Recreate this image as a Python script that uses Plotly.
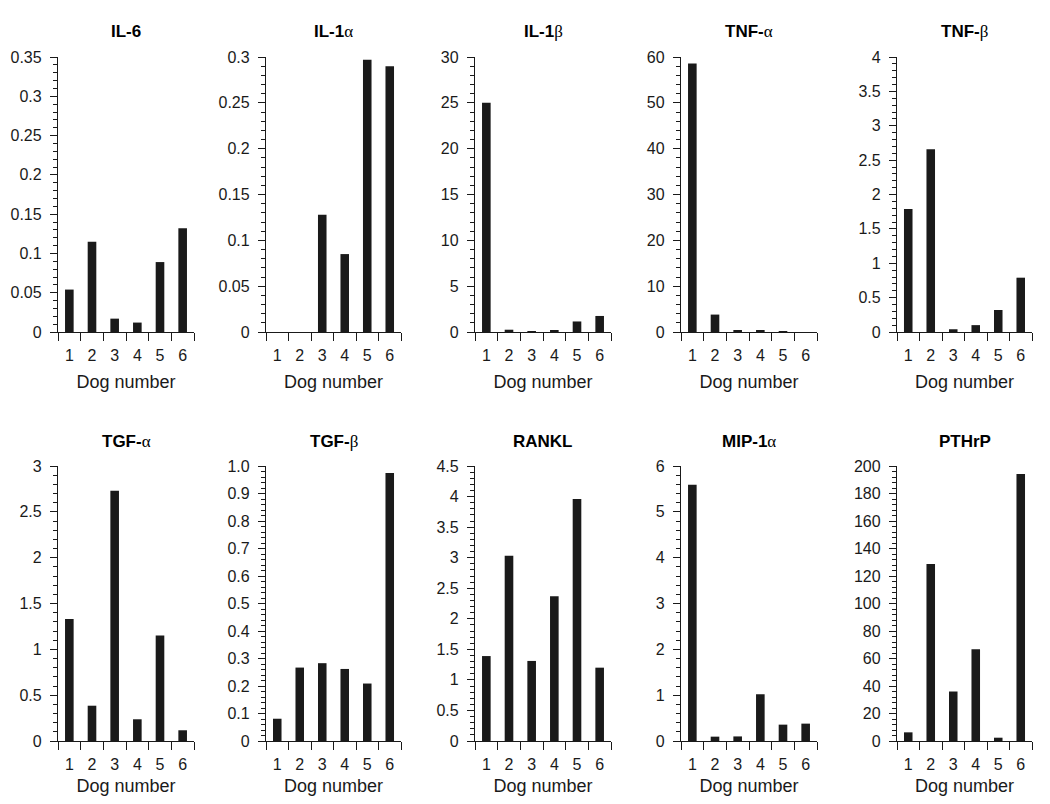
import plotly.graph_objects as go
from plotly.subplots import make_subplots

dogs = [1, 2, 3, 4, 5, 6]

titles = ["IL-6", "IL-1α", "IL-1β", "TNF-α", "TNF-β",
          "TGF-α", "TGF-β", "RANKL", "MIP-1α", "PTHrP"]

il6 = [0.054, 0.115, 0.017, 0.012, 0.089, 0.132]
il1a = [0, 0, 0.128, 0.085, 0.297, 0.290]
il1b = [25.0, 0.25, 0.1, 0.18, 1.15, 1.75]
tnfa = [58.6, 3.8, 0.3, 0.35, 0.05, 0.0]
tnfb = [1.79, 2.66, 0.04, 0.10, 0.32, 0.79]
tgfa = [1.33, 0.385, 2.73, 0.237, 1.15, 0.117]
tgfb = [0.081, 0.267, 0.283, 0.262, 0.209, 0.975]
rankl = [1.39, 3.03, 1.31, 2.37, 3.96, 1.20]
mip1a = [5.59, 0.095, 0.10, 1.02, 0.357, 0.379]
pthrp = [6.3, 128.8, 36.0, 66.8, 2.4, 194.2]

series = [il6, il1a, il1b, tnfa, tnfb, tgfa, tgfb, rankl, mip1a, pthrp]

y_max = [0.35, 0.3, 30, 60, 4, 3, 1.0, 4.5, 6, 200]
y_major = [0.05, 0.05, 5, 10, 0.5, 0.5, 0.1, 0.5, 1, 20]
y_minor = [0.01, 0.01, 1, 2, 0.1, 0.1, 0.02, 0.1, 0.2, 4]

# TGF-beta axis shows one decimal on the top label
tgfb_ticks = [0, 0.1, 0.2, 0.3, 0.4, 0.5, 0.6, 0.7, 0.8, 0.9, 1.0]
tgfb_labels = ["0", "0.1", "0.2", "0.3", "0.4", "0.5", "0.6", "0.7", "0.8", "0.9", "1.0"]

# tick marks sit between the dogs, not under them
dog_edges = [d - 0.5 for d in dogs] + [dogs[-1] + 0.5]

# page has an 8px body margin, so the figure is the window minus 16
PAD = 8
W, H = 1050 - 2 * PAD, 804 - 2 * PAD
col_px = [(58, 194), (266, 401), (475, 611), (681, 817), (897, 1032)]
row_px = [(57, 332), (466, 741)]

FONT = "Liberation Sans, Arial, sans-serif"
INK = "#1a1a1a"

fig = make_subplots(rows=2, cols=5)

for i, vals in enumerate(series):
    r, c = divmod(i, 5)
    fig.add_trace(
        go.Bar(x=dogs, y=vals, width=0.38, marker=dict(color=INK, line=dict(width=0)),
               showlegend=False),
        row=r + 1, col=c + 1,
    )
    x0, x1 = [v - PAD for v in col_px[c]]
    top, bot = [v - PAD for v in row_px[r]]
    fig.update_xaxes(
        domain=[x0 / W, x1 / W], range=[dog_edges[0], dog_edges[-1]],
        tickmode="linear", tick0=1, dtick=1,
        ticks="outside", ticklen=9, tickcolor="rgba(0,0,0,0)",
        minor=dict(tickmode="array", tickvals=dog_edges, ticks="outside",
                   ticklen=8, tickwidth=1.3, tickcolor=INK),
        showline=True, linecolor=INK, linewidth=1.3, showgrid=False, zeroline=False,
        tickfont=dict(family=FONT, size=16, color=INK),
        title=dict(text="Dog number", font=dict(family=FONT, size=18, color=INK), standoff=12),
        automargin=False, fixedrange=True,
        row=r + 1, col=c + 1,
    )
    yopts = dict(
        domain=[1 - bot / H, 1 - top / H], range=[0, y_max[i]],
        ticks="outside", ticklen=7, tickwidth=1.2, tickcolor=INK,
        tick0=0, dtick=y_major[i],
        minor=dict(ticks="outside", ticklen=4, tickwidth=1, tickcolor=INK, dtick=y_minor[i], tick0=0),
        showline=True, linecolor=INK, linewidth=1.3, showgrid=False, zeroline=False,
        tickfont=dict(family=FONT, size=16, color=INK), ticklabelstandoff=5,
        automargin=False, fixedrange=True,
    )
    if titles[i] == "TGF-β":
        yopts.update(tickmode="array", tickvals=tgfb_ticks, ticktext=tgfb_labels)
    fig.update_yaxes(**yopts, row=r + 1, col=c + 1)

    # panel title, greek letter in a serif face like the original
    t = titles[i]
    if t[-1] in "αβ":
        text = "<b>" + t[:-1] + "</b><span style='font-family:Liberation Serif'>" + t[-1] + "</span>"
    else:
        text = "<b>" + t + "</b>"
    fig.add_annotation(
        x=(x0 + x1) / 2 / W, y=1 - (top - 25) / H, xref="paper", yref="paper",
        text=text, showarrow=False, xanchor="center", yanchor="middle",
        font=dict(family=FONT, size=17, color="#000"),
    )

fig.update_layout(
    width=W, height=H,
    margin=dict(l=0, r=0, t=0, b=0, autoexpand=False),
    paper_bgcolor="white", plot_bgcolor="white",
)

fig.write_html("out.html")
